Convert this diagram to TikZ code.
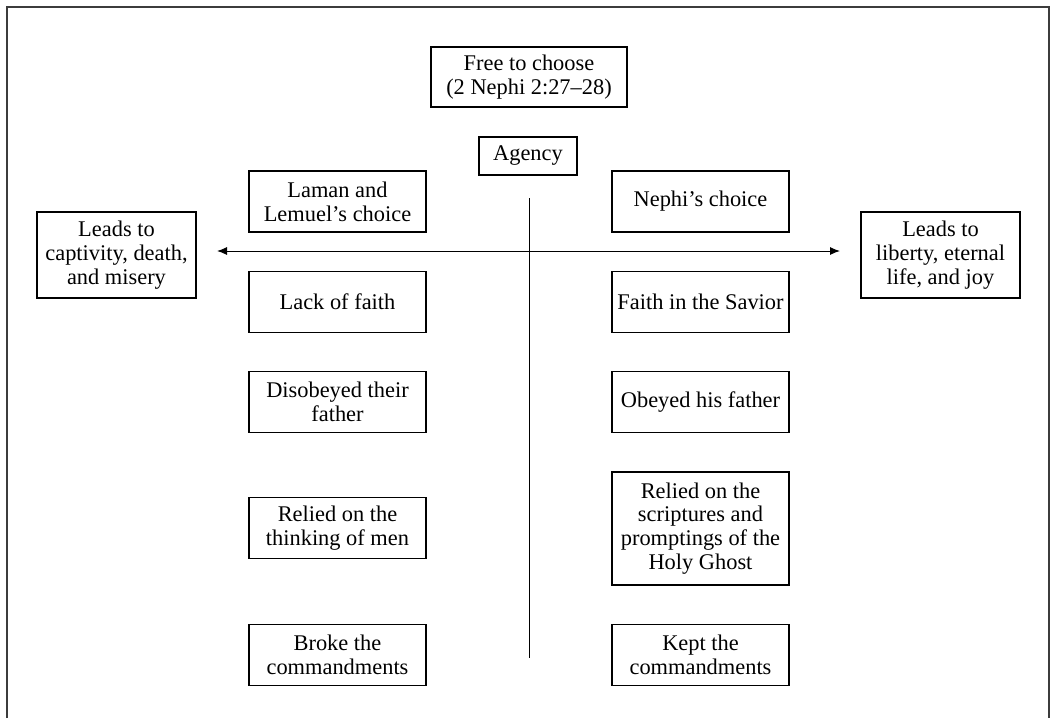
\documentclass[tikz,border=0pt]{standalone}
\usepackage{fontspec}
\setmainfont{Liberation Serif}
\usetikzlibrary{arrows.meta}

\tikzset{every picture/.style={line width=0.75pt}}
\tikzset{
  choicebox/.style={draw, line width=0.8pt, align=center, inner sep=0.75pt, minimum width=132.75pt, minimum height=45.75pt,
    font=\fontsize{16.8}{17.8}\selectfont},
  leadsbox/.style={choicebox, minimum width=119.25pt, minimum height=64.5pt},
  outerframe/.style={draw={rgb,255:red,60;green,60;blue,60}, line width=1.5pt}
}

\begin{document}
\begin{tikzpicture}[x=0.75pt,y=0.75pt,yscale=-1,xscale=1]
\useasboundingbox (0,0) rectangle (1050,718);

%Outer frame, open at the bottom
\draw [outerframe] (7,718) -- (7,7) -- (1049,7) -- (1049,718) ;

% Top nodes
\node [choicebox, minimum width=147pt, minimum height=45pt] (free) at (529,77) {Free to choose\\(2 Nephi 2:27–28)};
\node [choicebox, minimum width=73.5pt, minimum height=28.5pt] (agency) at (528,156) {Agency};

% Outcome nodes
\node [leadsbox] (lleads) at (116.5,255) {Leads to\\captivity, death,\\and misery};
\node [leadsbox] (rleads) at (940.5,255) {Leads to\\liberty, eternal\\life, and joy};

% Left column
\node [choicebox] (laman)  at (337.5,201.5) {Laman and\\Lemuel’s choice};
\node [choicebox] (lack)   at (337.5,302) {Lack of faith};
\node [choicebox] (disob)  at (337.5,402) {Disobeyed their\\father};
\node [choicebox] (relmen) at (337.5,528) {Relied on the\\thinking of men};
\node [choicebox] (broke)  at (337.5,655) {Broke the\\commandments};

% Right column
\node [choicebox] (nephi)  at (700.5,201.5) {Nephi’s choice};
\node [choicebox] (faith)  at (700.5,302) {Faith in the Savior};
\node [choicebox] (obey)   at (700.5,402) {Obeyed his father};
\node [choicebox, minimum height=84.75pt] (relscr) at (700.5,528.5) {Relied on the\\scriptures and\\promptings of the\\Holy Ghost};
\node [choicebox] (kept)   at (700.5,655) {Kept the\\commandments};

%Straight Lines
\coordinate (vtop) at (529,198);
\coordinate (vbot) at (529,658);
\draw (vtop) -- (vbot);
\coordinate (ltip) at (217,251);
\coordinate (rtip) at (840,251);
\draw [{Latex[length=7.5pt,width=6pt]}-{Latex[length=7.5pt,width=6pt]}] (ltip) -- (rtip);

\end{tikzpicture}
\end{document}
